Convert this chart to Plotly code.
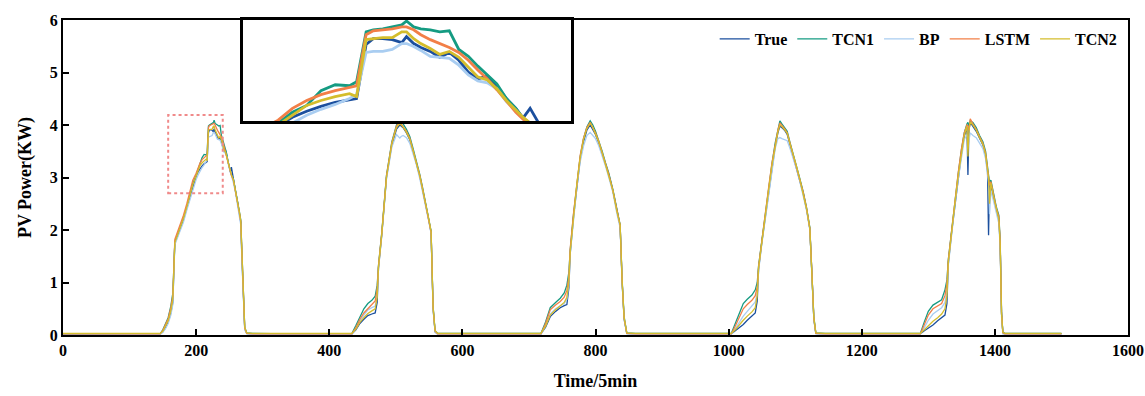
import plotly.graph_objects as go

# ---------------- data (time index in 5-min steps, power in kW) ----------------
x_day1 = [0, 60, 120, 146, 150, 154, 158, 162, 165, 168, 172, 176, 181, 186, 190, 195,
          200, 203, 206, 209, 212, 215, 216.5, 218.5, 220, 222, 224, 226, 227, 228.5, 230,
          232, 234, 236, 238, 240, 242, 244, 246, 248, 250,
          251.5, 253, 256, 259, 262, 265, 267, 269, 271, 273, 276, 285, 340, 400]
true_day1 = [0.02, 0.02, 0.02, 0.02,
             0.06, 0.14, 0.25, 0.42, 0.62, 1.78, 1.9, 2.03, 2.2, 2.42, 2.6, 2.83,
             3.02, 3.11, 3.17, 3.22, 3.26, 3.29, 3.30,
             3.85, 3.91, 3.91, 3.90, 3.87, 3.93, 3.86, 3.82,
             3.78, 3.72, 3.77, 3.69, 3.57, 3.50, 3.53, 3.43, 3.30, 3.20,
             3.10, 3.20, 2.95, 2.75, 2.55, 2.32, 2.15, 1.4, 0.6, 0.12, 0.03,
             0.02, 0.02, 0.02]
tcn1_day1 = [0.02, 0.02, 0.02, 0.02,
             0.1, 0.2, 0.33, 0.55, 0.8, 1.75, 1.88, 2.05, 2.22, 2.45, 2.64, 2.88,
             3.05, 3.16, 3.23, 3.38, 3.44, 3.43, 3.47,
             3.98, 4.0, 4.01, 4.03, 4.05, 4.09, 4.03, 4.01,
             4.0, 3.98, 3.99, 3.80, 3.73, 3.63, 3.54, 3.45, 3.30, 3.20,
             3.10, 3.05, 2.97, 2.78, 2.58, 2.35, 2.2, 1.5, 0.7, 0.15, 0.04,
             0.03, 0.02, 0.02]
bp_day1 = [0.02, 0.02, 0.02, 0.01,
           0.05, 0.12, 0.22, 0.38, 0.58, 1.72, 1.85, 1.98, 2.15, 2.38, 2.55, 2.78,
           2.96, 3.05, 3.13, 3.19, 3.24, 3.30, 3.34,
           3.77, 3.78, 3.78, 3.80, 3.86, 3.86, 3.83, 3.79,
           3.73, 3.72, 3.71, 3.64, 3.54, 3.48, 3.46, 3.40, 3.27, 3.18,
           3.10, 3.02, 2.9, 2.72, 2.5, 2.28, 2.1, 1.35, 0.55, 0.1, 0.02,
           0.01, 0.01, 0.01]
lstm_day1 = [0.02, 0.02, 0.02, 0.02,
             0.09, 0.19, 0.31, 0.52, 0.75, 1.82, 1.95, 2.1, 2.28, 2.5, 2.7, 2.95,
             3.08, 3.2, 3.28, 3.34, 3.38, 3.41, 3.43,
             3.95, 3.99, 4.0, 4.01, 4.03, 4.03, 4.0, 3.95,
             3.9, 3.86, 3.82, 3.77, 3.69, 3.59, 3.50, 3.39, 3.28, 3.16,
             3.09, 3.04, 2.95, 2.76, 2.56, 2.33, 2.17, 1.45, 0.65, 0.13, 0.03,
             0.02, 0.02, 0.02]
tcn2_day1 = [0.03, 0.03, 0.03, 0.03,
             0.07, 0.16, 0.27, 0.46, 0.68, 1.76, 1.9, 2.04, 2.22, 2.44, 2.62, 2.86,
             3.03, 3.13, 3.23, 3.28, 3.32, 3.35, 3.32,
             3.90, 3.91, 3.92, 3.92, 3.98, 3.98, 3.91, 3.86,
             3.81, 3.75, 3.78, 3.72, 3.62, 3.52, 3.49, 3.40, 3.28, 3.18,
             3.11, 3.05, 2.96, 2.77, 2.57, 2.34, 2.18, 1.5, 0.7, 0.15, 0.04,
             0.03, 0.03, 0.03]

x_day2 = [434, 440, 446, 452, 458, 464, 469, 472, 474, 479, 486, 494, 501, 506, 508,
          511, 516, 521, 526, 531, 536, 540, 544, 549, 553, 556, 559, 563, 580, 640, 700]
true_day2 = [0.02, 0.1, 0.22, 0.3, 0.37, 0.4, 0.42, 0.62, 1.28, 1.92, 3.0, 3.62, 3.92, 4.0, 3.98,
             3.95, 3.85, 3.72, 3.5, 3.28, 3.02, 2.78, 2.55, 2.22, 1.95, 0.5, 0.06, 0.02, 0.02, 0.02, 0.02]
tcn1_day2 = [0.03, 0.18, 0.35, 0.5, 0.6, 0.66, 0.74, 0.95, 1.33, 1.96, 3.04, 3.68, 4.0, 4.08, 4.16,
             4.02, 3.92, 3.78, 3.55, 3.32, 3.06, 2.82, 2.58, 2.25, 1.98, 0.55, 0.08, 0.03, 0.03, 0.03, 0.03]
bp_day2 = [0.01, 0.12, 0.27, 0.38, 0.48, 0.52, 0.55, 0.78, 1.26, 1.9, 2.97, 3.58, 3.82, 3.75, 3.78,
           3.80, 3.76, 3.65, 3.45, 3.24, 2.98, 2.75, 2.52, 2.2, 1.93, 0.48, 0.05, 0.01, 0.01, 0.01, 0.01]
lstm_day2 = [0.02, 0.14, 0.3, 0.42, 0.51, 0.58, 0.65, 0.88, 1.32, 1.95, 3.03, 3.66, 3.98, 4.06, 4.02,
             3.97, 3.88, 3.75, 3.53, 3.3, 3.04, 2.8, 2.56, 2.23, 1.96, 0.52, 0.07, 0.02, 0.02, 0.02, 0.02]
tcn2_day2 = [0.03, 0.11, 0.24, 0.33, 0.41, 0.46, 0.5, 0.72, 1.3, 1.93, 3.01, 3.64, 3.95, 4.03, 4.0,
             3.96, 3.86, 3.73, 3.51, 3.29, 3.03, 2.79, 2.56, 2.24, 1.97, 0.53, 0.08, 0.03, 0.03, 0.03, 0.03]

x_day3 = [718, 725, 732, 740, 747, 753, 757, 760, 762, 767, 772, 777, 782, 787, 792,
          796, 800, 805, 810, 815, 820, 826, 832, 837, 840, 843, 847, 860, 920, 980]
true_day3 = [0.02, 0.15, 0.35, 0.45, 0.52, 0.56, 0.58, 0.9, 1.55, 2.25, 2.85, 3.35, 3.68, 3.9, 4.0,
             3.92, 3.82, 3.65, 3.46, 3.25, 3.05, 2.75, 2.35, 2.08, 1.0, 0.3, 0.03, 0.02, 0.02, 0.02]
tcn1_day3 = [0.03, 0.25, 0.52, 0.62, 0.7, 0.8, 0.95, 1.2, 1.62, 2.3, 2.9, 3.4, 3.74, 3.96, 4.08,
             4.0, 3.88, 3.7, 3.5, 3.28, 3.08, 2.78, 2.38, 2.1, 1.05, 0.35, 0.04, 0.03, 0.03, 0.03]
bp_day3 = [0.01, 0.18, 0.4, 0.5, 0.55, 0.6, 0.68, 0.98, 1.55, 2.22, 2.82, 3.3, 3.6, 3.8, 3.86,
           3.8, 3.74, 3.6, 3.42, 3.22, 3.0, 2.72, 2.32, 2.04, 0.98, 0.3, 0.02, 0.01, 0.01, 0.01]
lstm_day3 = [0.02, 0.22, 0.48, 0.57, 0.64, 0.72, 0.85, 1.12, 1.64, 2.32, 2.92, 3.42, 3.75, 3.95, 4.05,
             3.96, 3.85, 3.68, 3.48, 3.27, 3.06, 2.76, 2.36, 2.09, 1.02, 0.32, 0.03, 0.02, 0.02, 0.02]
tcn2_day3 = [0.03, 0.17, 0.38, 0.48, 0.55, 0.62, 0.72, 1.02, 1.58, 2.28, 2.88, 3.38, 3.72, 3.93, 4.03,
             3.95, 3.84, 3.67, 3.47, 3.26, 3.05, 2.76, 2.36, 2.1, 1.03, 0.33, 0.04, 0.03, 0.03, 0.03]

x_day4 = [1004, 1010, 1016, 1022, 1028, 1035, 1040, 1043, 1045, 1050, 1055, 1060, 1065, 1070, 1074,
          1077, 1080, 1084, 1088, 1092, 1097, 1102, 1107, 1112, 1117, 1122, 1125, 1128, 1131, 1145,
          1200, 1260]
true_day4 = [0.02, 0.08, 0.14, 0.2, 0.28, 0.36, 0.42, 0.65, 1.25, 1.78, 2.22, 2.72, 3.2, 3.6, 3.85,
             3.98, 3.95, 3.9, 3.82, 3.63, 3.42, 3.2, 2.95, 2.7, 2.4, 2.02, 1.2, 0.3, 0.03, 0.02,
             0.02, 0.02]
tcn1_day4 = [0.03, 0.22, 0.42, 0.6, 0.68, 0.76, 0.86, 1.0, 1.32, 1.82, 2.28, 2.78, 3.25, 3.66, 3.9,
             4.08, 4.02, 3.95, 3.88, 3.68, 3.46, 3.24, 2.98, 2.73, 2.43, 2.05, 1.25, 0.35, 0.04, 0.03,
             0.03, 0.03]
bp_day4 = [0.01, 0.12, 0.24, 0.36, 0.45, 0.55, 0.63, 0.8, 1.22, 1.75, 2.2, 2.7, 3.15, 3.55, 3.74,
           3.76, 3.74, 3.72, 3.7, 3.56, 3.38, 3.16, 2.92, 2.67, 2.38, 2.0, 1.18, 0.3, 0.02, 0.01,
           0.01, 0.01]
lstm_day4 = [0.02, 0.17, 0.34, 0.5, 0.58, 0.66, 0.75, 0.92, 1.3, 1.84, 2.3, 2.8, 3.27, 3.66, 3.9,
             4.04, 4.0, 3.93, 3.85, 3.66, 3.45, 3.22, 2.97, 2.72, 2.42, 2.03, 1.22, 0.32, 0.03, 0.02,
             0.02, 0.02]
tcn2_day4 = [0.03, 0.1, 0.2, 0.28, 0.36, 0.44, 0.52, 0.75, 1.28, 1.8, 2.25, 2.75, 3.22, 3.62, 3.87,
             4.0, 3.97, 3.91, 3.84, 3.65, 3.44, 3.21, 2.96, 2.71, 2.41, 2.03, 1.22, 0.33, 0.04, 0.03,
             0.03, 0.03]

x_day5 = [1288, 1294, 1300, 1307, 1314, 1320, 1325, 1328, 1330, 1335, 1340, 1345, 1350, 1354, 1358,
          1359.5, 1361, 1363, 1367, 1372, 1377, 1382, 1386, 1389, 1390.5, 1392, 1394, 1398, 1402, 1406,
          1408, 1410, 1412, 1415, 1430, 1470, 1500]
true_day5 = [0.02, 0.08, 0.13, 0.19, 0.27, 0.33, 0.38, 0.6, 1.35, 1.95, 2.5, 3.02, 3.48, 3.78, 3.96,
             3.05, 3.9, 4.05, 3.98, 3.88, 3.75, 3.62, 3.42, 3.1, 1.9, 2.95, 2.85, 2.62, 2.38, 2.2,
             1.7, 0.4, 0.04, 0.02, 0.02, 0.02, 0.02]
tcn1_day5 = [0.03, 0.25, 0.45, 0.57, 0.62, 0.67, 0.86, 1.05, 1.43, 2.0, 2.57, 3.08, 3.55, 3.85, 4.02,
             4.05, 3.98, 4.08, 4.05, 3.95, 3.8, 3.68, 3.5, 3.2, 3.1, 2.9, 2.95, 2.7, 2.45, 2.28,
             1.78, 0.45, 0.05, 0.03, 0.03, 0.03, 0.03]
bp_day5 = [0.01, 0.14, 0.28, 0.4, 0.46, 0.52, 0.62, 0.85, 1.32, 1.92, 2.48, 2.98, 3.42, 3.72, 3.82,
           3.76, 3.7, 3.85, 3.8, 3.76, 3.66, 3.55, 3.36, 3.05, 2.9, 2.3, 2.75, 2.55, 2.32, 2.12,
           1.65, 0.35, 0.02, 0.01, 0.01, 0.01, 0.01]
lstm_day5 = [0.02, 0.2, 0.38, 0.5, 0.55, 0.6, 0.75, 0.98, 1.42, 2.02, 2.6, 3.1, 3.56, 3.85, 4.0,
             3.98, 3.9, 4.12, 4.02, 3.92, 3.78, 3.65, 3.47, 3.18, 3.05, 2.85, 2.92, 2.68, 2.42, 2.25,
             1.75, 0.42, 0.04, 0.02, 0.02, 0.02, 0.02]
tcn2_day5 = [0.03, 0.1, 0.18, 0.26, 0.33, 0.4, 0.5, 0.75, 1.38, 1.98, 2.52, 3.04, 3.5, 3.8, 3.98,
             3.4, 3.88, 4.06, 4.0, 3.9, 3.76, 3.63, 3.44, 3.12, 3.0, 2.5, 2.9, 2.64, 2.4, 2.2,
             1.72, 0.4, 0.05, 0.03, 0.03, 0.03, 0.03]

series_names = ["True", "TCN1", "BP", "LSTM", "TCN2"]
series_colors = ["#1b4f9e", "#159b82", "#a9cdf1", "#f27f47", "#d4bd2c"]

# ---------------- assemble ----------------
time = x_day1 + x_day2 + x_day3 + x_day4 + x_day5
values = {
    "True": true_day1 + true_day2 + true_day3 + true_day4 + true_day5,
    "TCN1": tcn1_day1 + tcn1_day2 + tcn1_day3 + tcn1_day4 + tcn1_day5,
    "BP": bp_day1 + bp_day2 + bp_day3 + bp_day4 + bp_day5,
    "LSTM": lstm_day1 + lstm_day2 + lstm_day3 + lstm_day4 + lstm_day5,
    "TCN2": tcn2_day1 + tcn2_day2 + tcn2_day3 + tcn2_day4 + tcn2_day5,
}
for k, v in values.items():
    assert len(v) == len(time), (k, len(v), len(time))

FONT = "Liberation Serif, Times New Roman, serif"

fig = go.Figure()
for name, color in zip(series_names, series_colors):
    fig.add_trace(go.Scatter(x=time, y=values[name], mode="lines", name=name,
                             line=dict(color=color, width=1.3),
                             xaxis="x", yaxis="y"))
for name, color in zip(series_names, series_colors):
    fig.add_trace(go.Scatter(x=time, y=values[name], mode="lines", name=name,
                             line=dict(color=color, width=2.8), showlegend=False,
                             xaxis="x2", yaxis="y2"))

# zoom-region marker on the main axes
fig.add_shape(type="rect", xref="x", yref="y", x0=158, x1=240, y0=2.7, y1=4.19,
              line=dict(color="#f08a8a", width=2, dash="dot"), fillcolor="rgba(0,0,0,0)")

axis_common = dict(showline=True, linecolor="black", mirror=True, showgrid=False,
                   zeroline=False, automargin=False)

fig.update_layout(
    width=1145, height=396,
    margin=dict(l=63, r=17, t=20, b=61, autoexpand=False),
    paper_bgcolor="white", plot_bgcolor="white",
    font=dict(family=FONT, size=16, color="black"),
    xaxis=dict(**axis_common, linewidth=2, range=[0, 1600],
               tickvals=[0, 200, 400, 600, 800, 1000, 1200, 1400, 1600],
               ticks="inside", ticklen=6, tickwidth=2, tickcolor="black",
               tickfont=dict(family=FONT, size=16, weight="bold"),
               title=dict(text="Time/5min", font=dict(family=FONT, size=18, weight="bold"), standoff=16)),
    yaxis=dict(**axis_common, linewidth=2, range=[0, 6], tickvals=[0, 1, 2, 3, 4, 5, 6],
               ticks="inside", ticklen=6, tickwidth=2, tickcolor="black",
               tickfont=dict(family=FONT, size=16, weight="bold"),
               title=dict(text="PV Power(KW)", font=dict(family=FONT, size=18, weight="bold"), standoff=13)),
    xaxis2=dict(**axis_common, linewidth=2.5, domain=[0.169, 0.477], anchor="y2",
                range=[192.6, 261.6], showticklabels=False, ticks=""),
    yaxis2=dict(**axis_common, linewidth=2.5, domain=[0.679, 1.0], anchor="x2",
                range=[3.07, 4.1], showticklabels=False, ticks=""),
    legend=dict(orientation="h", x=0.995, xanchor="right", y=0.94, yanchor="middle",
                bgcolor="rgba(0,0,0,0)", font=dict(family=FONT, size=16, weight="bold"),
                itemwidth=30, tracegroupgap=0),
    showlegend=True,
)

# remove the default page margin so the figure fills the window exactly
fig.write_html("out.html", config={"displayModeBar": False},
               post_script="document.body.style.margin='0';document.body.style.overflow='hidden';")
